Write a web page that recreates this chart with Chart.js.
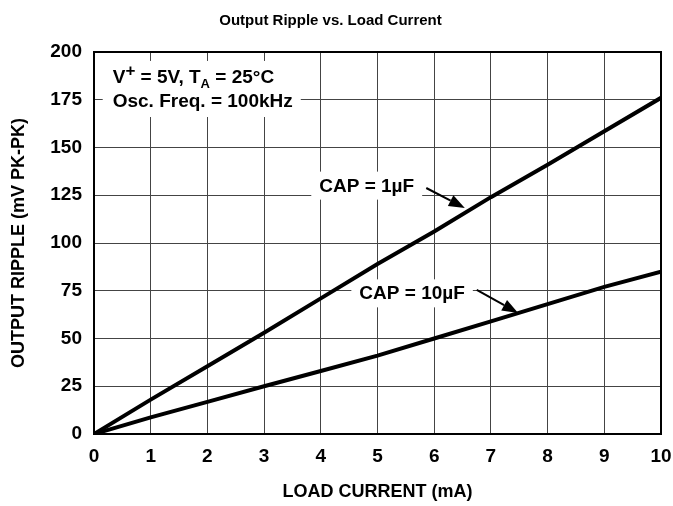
<!DOCTYPE html>
<html>
<head>
<meta charset="utf-8">
<script src="https://cdn.jsdelivr.net/npm/chart.js@4/dist/chart.umd.min.js"></script>
<style>
  html, body { margin: 0; padding: 0; background: #fff; }
  #wrap { width: 673px; height: 506px; }
</style>
</head>
<body>
<div id="wrap"><canvas id="chart" width="673" height="506"></canvas></div>
<script>
// load current (mA) and output ripple (mV PK-PK)
const loadCurrent = [0, 1, 2, 3, 4, 5, 6, 7, 8, 9, 10];
const ripple1uF = [0, 18, 35.5, 53, 71, 89, 106, 124, 141, 158.5, 176];
const ripple10uF = [0, 8.7, 16.8, 25, 33, 41, 50, 59, 68, 77, 85];
const seriesNames = ['CAP = 1\u00b5F', 'CAP = 10\u00b5F'];

const xTicks = [0, 1, 2, 3, 4, 5, 6, 7, 8, 9, 10];
const yTicks = [0, 25, 50, 75, 100, 125, 150, 175, 200];

const FONT = "'Liberation Sans', Arial, Helvetica, sans-serif";

// annotation anchors in data units
const labelSpots = [
  { text: seriesNames[0], x: 4.81, y: 126.9, from: [5.86, 128.8], to: [6.54, 118.3] },
  { text: seriesNames[1], x: 5.61, y: 70.5, from: [6.75, 75.4], to: [7.48, 63.4] }
];
const headerSpot = { x: 0.33, y1: 183.8, y2: 171.2 };

function toPoints(xs, ys) {
  return xs.map((x, i) => ({ x: x, y: ys[i] }));
}

function labelBox(ctx, x, y, spot) {
  ctx.font = 'bold 19px ' + FONT;
  const w = ctx.measureText(spot.text).width;
  const cx = x.getPixelForValue(spot.x);
  const by = y.getPixelForValue(spot.y);
  return { cx: cx, by: by, x: cx - w / 2 - 8, y: by - 20, w: w + 16, h: 28 };
}

// draws the two-line condition note; if measureOnly just returns the width
function drawHeader(ctx, left, base1, base2, measureOnly) {
  const big = 'bold 19px ' + FONT;
  const sup = 'bold 17px ' + FONT;
  const sub = 'bold 13px ' + FONT;
  const parts = [
    [big, 'V', 0], [sup, '+', -7], [big, ' = 5V, T', 0], [sub, 'A', 5], [big, ' = 25\u00b0C', 0]
  ];
  let cx = left;
  parts.forEach(p => {
    ctx.font = p[0];
    if (!measureOnly) ctx.fillText(p[1], cx, base1 + p[2]);
    cx += ctx.measureText(p[1]).width;
  });
  ctx.font = big;
  const w2 = ctx.measureText('Osc. Freq. = 100kHz').width;
  if (!measureOnly) ctx.fillText('Osc. Freq. = 100kHz', left, base2);
  return Math.max(cx - left, w2);
}

function arrow(ctx, x1, y1, x2, y2) {
  const ang = Math.atan2(y2 - y1, x2 - x1);
  const len = 16, half = 6;
  const bx = x2 - len * Math.cos(ang), by = y2 - len * Math.sin(ang);
  ctx.beginPath();
  ctx.moveTo(x1, y1);
  ctx.lineTo(bx, by);
  ctx.lineWidth = 2;
  ctx.stroke();
  ctx.beginPath();
  ctx.moveTo(x2, y2);
  ctx.lineTo(bx + half * Math.sin(ang), by - half * Math.cos(ang));
  ctx.lineTo(bx - half * Math.sin(ang), by + half * Math.cos(ang));
  ctx.closePath();
  ctx.fill();
}

const notesPlugin = {
  id: 'notes',
  beforeDatasetsDraw(chart) {
    const { ctx, scales: { x, y } } = chart;
    ctx.save();
    ctx.fillStyle = '#fff';
    labelSpots.forEach(s => {
      const b = labelBox(ctx, x, y, s);
      ctx.fillRect(b.x, b.y, b.w, b.h);
    });
    const left = x.getPixelForValue(headerSpot.x);
    const b1 = y.getPixelForValue(headerSpot.y1);
    const b2 = y.getPixelForValue(headerSpot.y2);
    const w = drawHeader(ctx, left, b1, b2, true);
    ctx.fillRect(left - 10, b1 - 22, w + 18, b2 - b1 + 32);
    ctx.restore();
  },
  afterDatasetsDraw(chart) {
    const { ctx, chartArea: a, scales: { x, y } } = chart;
    ctx.save();
    // frame on top and right
    ctx.strokeStyle = '#000';
    ctx.lineWidth = 2;
    ctx.beginPath();
    ctx.moveTo(a.left, a.top);
    ctx.lineTo(a.right, a.top);
    ctx.lineTo(a.right, a.bottom);
    ctx.stroke();

    ctx.fillStyle = '#000';
    ctx.textBaseline = 'alphabetic';
    ctx.textAlign = 'left';
    drawHeader(ctx, x.getPixelForValue(headerSpot.x),
      y.getPixelForValue(headerSpot.y1), y.getPixelForValue(headerSpot.y2), false);

    labelSpots.forEach(s => {
      const b = labelBox(ctx, x, y, s);
      ctx.textAlign = 'center';
      ctx.fillText(s.text, b.cx, b.by);
      arrow(ctx, x.getPixelForValue(s.from[0]), y.getPixelForValue(s.from[1]),
        x.getPixelForValue(s.to[0]), y.getPixelForValue(s.to[1]));
    });
    ctx.restore();
  }
};

const ctx = document.getElementById('chart').getContext('2d');

new Chart(ctx, {
  type: 'line',
  data: {
    datasets: [
      {
        label: seriesNames[0],
        data: toPoints(loadCurrent, ripple1uF),
        borderColor: '#000',
        borderWidth: 4,
        pointRadius: 0,
        tension: 0
      },
      {
        label: seriesNames[1],
        data: toPoints(loadCurrent, ripple10uF),
        borderColor: '#000',
        borderWidth: 4,
        pointRadius: 0,
        tension: 0
      }
    ]
  },
  options: {
    responsive: false,
    animation: false,
    layout: { padding: { left: 0, right: 12, top: 0, bottom: 0 } },
    plugins: {
      legend: { display: false },
      tooltip: { enabled: false },
      title: {
        display: true,
        text: 'Output Ripple vs. Load Current',
        color: '#000',
        font: { family: FONT, size: 15, weight: 'bold', lineHeight: 1.2 },
        padding: { top: 12, bottom: 22 }
      }
    },
    scales: {
      x: {
        type: 'linear',
        min: 0,
        max: 10,
        afterBuildTicks: s => { s.ticks = xTicks.map(v => ({ value: v })); },
        afterFit: s => { s.height = 72; s.paddingRight = 0; s.paddingLeft = 0; },
        grid: { color: '#444', lineWidth: 1, drawTicks: false },
        border: { color: '#000', width: 2 },
        ticks: {
          color: '#000',
          padding: 11,
          maxRotation: 0,
          font: { family: FONT, size: 19, weight: 'bold' }
        },
        title: {
          display: true,
          text: 'LOAD CURRENT (mA)',
          color: '#000',
          font: { family: FONT, size: 18, weight: 'bold' },
          padding: { top: 3, bottom: 3 }
        }
      },
      y: {
        min: 0,
        max: 200,
        afterBuildTicks: s => { s.ticks = yTicks.map(v => ({ value: v })); },
        afterFit: s => { s.width = 94; },
        grid: { color: '#444', lineWidth: 1, drawTicks: false },
        border: { color: '#000', width: 2 },
        ticks: {
          color: '#000',
          padding: 12,
          font: { family: FONT, size: 19, weight: 'bold' }
        },
        title: {
          display: true,
          text: 'OUTPUT RIPPLE (mV PK-PK)',
          color: '#000',
          font: { family: FONT, size: 18, weight: 'bold' },
          padding: { top: 8, bottom: 8 }
        }
      }
    }
  },
  plugins: [notesPlugin]
});
</script>
</body>
</html>
